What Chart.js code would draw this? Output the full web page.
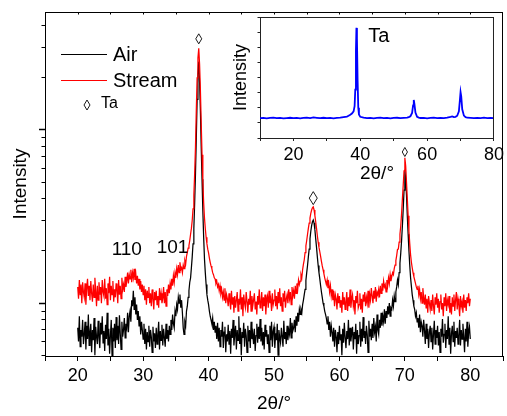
<!DOCTYPE html>
<html>
<head>
<meta charset="utf-8">
<script src="https://cdn.jsdelivr.net/npm/chart.js@4.4.1/dist/chart.umd.min.js"></script>
<style>
  html, body { margin: 0; padding: 0; background: #fff; }
  #wrap { position: relative; width: 507px; height: 416px; }
  #main { position: absolute; left: 0; top: 0; }
  #inset { position: absolute; left: 215px; top: 0; }
</style>
</head>
<body>
<div id="wrap">
  <canvas id="main" width="507" height="416"></canvas>
  <canvas id="inset" width="292" height="195"></canvas>
</div>
<script>
const ANGLE_START = 20, ANGLE_STEP = 0.125;

const airValues = [
  72, 60, 84, 56, 70, 64, 80, 58,         // 20
  66, 78, 54, 74, 62, 86, 57, 68,         // 21
  76, 52, 70, 61, 82, 50, 73, 64,         // 22
  58, 79, 63, 55, 77, 66, 84, 59,         // 23
  69, 53, 75, 62, 88, 57, 71, 51,         // 24
  65, 80, 49, 72, 60, 76, 55, 83,         // 25
  61, 74, 58, 85, 67, 54, 78, 64,         // 26
  70, 82, 63, 76, 72, 88, 68, 84,         // 27
  90, 78, 104, 96, 118, 92, 108, 86,      // 28
  98, 80, 90, 74, 84, 66, 78, 70,         // 29
  62, 76, 58, 71, 54, 68, 60, 74,         // 30
  56, 70, 64, 52, 73, 60, 67, 55,         // 31
  72, 58, 66, 78, 54, 69, 61, 75,         // 32
  57, 71, 63, 56, 76, 62, 70, 60,         // 33
  74, 66, 80, 70, 86, 76, 72, 90,         // 34
  84, 98, 92, 108, 100, 112, 94, 104,     // 35
  88, 72, 66, 78, 74, 90, 96, 108,        // 36
  118, 132, 140, 160, 185, 220, 270, 380, // 37
  560, 900, 1500, 2100, 2480, 1900, 1300, 800, // 38
  520, 340, 240, 180, 150, 128, 112, 104, // 39
  98, 90, 84, 80, 76, 82, 70, 78,         // 40
  68, 74, 62, 77, 60, 72, 56, 70,         // 41
  64, 78, 55, 68, 73, 52, 66, 60,         // 42
  75, 58, 69, 51, 71, 63, 80, 57,         // 43
  66, 74, 54, 70, 61, 84, 58, 72,         // 44
  50, 68, 63, 77, 56, 71, 65, 52,         // 45
  74, 60, 70, 55, 78, 62, 67, 58,         // 46
  71, 53, 65, 76, 59, 73, 62, 81,         // 47
  60, 72, 57, 68, 54, 75, 64, 70,         // 48
  58, 66, 52, 74, 61, 78, 56, 69,         // 49
  73, 55, 67, 61, 76, 50, 70, 63,         // 50
  59, 72, 64, 56, 79, 62, 68, 58,         // 51
  74, 61, 70, 66, 82, 63, 77, 69,         // 52
  72, 80, 68, 84, 74, 88, 78, 92,         // 53
  86, 92, 88, 98, 104, 112, 120, 135,     // 54
  150, 165, 185, 205, 235, 260, 280, 295, // 55
  302, 290, 265, 235, 210, 185, 165, 150, // 56
  138, 126, 116, 108, 100, 96, 90, 86,    // 57
  82, 76, 84, 70, 78, 64, 74, 68,         // 58
  60, 72, 56, 70, 64, 52, 68, 58,         // 59
  74, 61, 66, 50, 71, 59, 77, 63,         // 60
  55, 69, 62, 80, 57, 72, 60, 67,         // 61
  73, 54, 68, 62, 76, 51, 70, 58,         // 62
  65, 78, 56, 71, 60, 83, 63, 69,         // 63
  58, 74, 66, 52, 79, 64, 71, 61,         // 64
  76, 63, 82, 68, 73, 60, 86, 70,         // 65
  66, 80, 72, 88, 74, 84, 78, 92,         // 66
  76, 90, 82, 96, 86, 100, 84, 94,        // 67
  92, 104, 96, 110, 102, 116, 124, 136,   // 68
  128, 150, 170, 195, 230, 280, 350, 450, // 69
  590, 520, 420, 320, 250, 200, 165, 140, // 70
  125, 112, 104, 96, 92, 84, 88, 78,      // 71
  82, 72, 86, 68, 78, 74, 64, 80,         // 72
  70, 58, 76, 62, 71, 55, 68, 74,         // 73
  60, 72, 54, 66, 79, 58, 70, 63,         // 74
  74, 57, 68, 52, 71, 64, 81, 59,         // 75
  66, 76, 55, 70, 62, 84, 58, 72,         // 76
  51, 67, 74, 60, 78, 56, 69, 63,         // 77
  72, 58, 65, 80, 57, 70, 62, 76,         // 78
  64, 52, 71, 60, 78, 56, 68, 73,         // 79
  62                                      // 80
];

const streamValues = [
  124, 106, 136, 112, 128, 100, 132, 116, // 20
  108, 130, 98, 122, 138, 110, 126, 104,  // 21
  134, 114, 102, 128, 108, 140, 118, 96,  // 22
  126, 104, 132, 112, 124, 100, 136, 116, // 23
  110, 138, 106, 122, 98, 130, 114, 142,  // 24
  104, 126, 112, 134, 102, 120, 108, 130, // 25
  118, 100, 136, 112, 126, 106, 140, 120, // 26
  128, 116, 142, 124, 134, 150, 130, 146, // 27
  138, 156, 132, 150, 140, 158, 136, 148, // 28
  130, 144, 126, 138, 120, 134, 116, 128, // 29
  112, 126, 104, 120, 98, 118, 108, 124,  // 30
  100, 114, 96, 120, 106, 92, 116, 104,   // 31
  118, 98, 110, 94, 122, 104, 114, 100,   // 32
  106, 124, 100, 116, 96, 120, 110, 128,  // 33
  114, 130, 120, 138, 126, 144, 132, 150, // 34
  140, 158, 146, 166, 150, 172, 156, 160, // 35
  150, 166, 158, 176, 168, 186, 196, 208, // 36
  215, 230, 250, 270, 300, 350, 420, 560, // 37
  800, 1300, 2000, 2600, 2960, 2400, 1700, 1100, // 38
  720, 500, 380, 310, 270, 240, 220, 205, // 39
  195, 182, 172, 164, 158, 150, 146, 140, // 40
  138, 130, 134, 124, 128, 118, 126, 114, // 41
  120, 108, 116, 104, 122, 100, 112, 106, // 42
  96, 114, 102, 92, 118, 98, 108, 88,     // 43
  110, 94, 104, 116, 90, 106, 98, 120,    // 44
  92, 108, 84, 112, 100, 94, 116, 102,    // 45
  88, 106, 98, 118, 90, 110, 96, 104,     // 46
  114, 92, 102, 86, 110, 98, 120, 94,     // 47
  100, 116, 90, 108, 96, 112, 86, 104,    // 48
  110, 94, 118, 100, 106, 90, 114, 98,    // 49
  104, 120, 96, 110, 92, 116, 100, 122,   // 50
  96, 108, 90, 114, 102, 118, 94, 106,    // 51
  112, 100, 120, 106, 116, 98, 124, 110,  // 52
  118, 106, 126, 114, 130, 120, 136, 128, // 53
  134, 146, 140, 156, 168, 178, 196, 214, // 54
  230, 250, 270, 290, 310, 330, 345, 355, // 55
  360, 345, 320, 295, 270, 245, 225, 210, // 56
  198, 186, 174, 164, 156, 148, 140, 134, // 57
  128, 136, 122, 130, 116, 126, 110, 120, // 58
  104, 118, 96, 112, 106, 92, 114, 100,   // 59
  110, 94, 104, 88, 116, 98, 108, 92,     // 60
  102, 116, 90, 108, 96, 120, 94, 106,    // 61
  112, 96, 104, 86, 110, 100, 118, 94,    // 62
  98, 114, 92, 106, 88, 112, 102, 116,    // 63
  96, 108, 100, 118, 94, 112, 104, 122,   // 64
  110, 100, 118, 106, 124, 102, 116, 112, // 65
  120, 108, 126, 114, 130, 118, 134, 124, // 66
  128, 116, 136, 126, 140, 130, 146, 134, // 67
  142, 150, 146, 158, 166, 176, 188, 204, // 68
  205, 225, 250, 280, 330, 400, 480, 580, // 69
  690, 620, 500, 400, 320, 260, 220, 190, // 70
  172, 160, 150, 142, 136, 130, 124, 120, // 71
  126, 112, 120, 106, 116, 100, 122, 108, // 72
  98, 112, 94, 106, 88, 110, 100, 92,     // 73
  104, 90, 112, 96, 86, 108, 98, 114,     // 74
  94, 106, 88, 102, 112, 92, 100, 84,     // 75
  108, 96, 114, 90, 104, 98, 110, 88,     // 76
  100, 86, 108, 96, 112, 90, 104, 116,    // 77
  92, 106, 98, 84, 110, 96, 102, 88,      // 78
  112, 94, 104, 90, 108, 100, 114, 96,    // 79
  106                                     // 80
];

// inset: Ta reference pattern
const insetAngles = [
  10, 11, 12, 13, 14, 15, 16, 17, 18, 19, 20, 21, 22, 23, 24, 25, 26, 27, 28, 29,
  30, 31, 32, 33, 34, 35, 36, 36.5, 37, 37.5, 38, 38.3, 38.5, 38.7, 38.85, 39, 39.2, 39.4, 39.6,
  40, 41, 42, 43, 44, 45, 46, 47, 48, 49, 50, 51, 52, 53, 54, 54.5, 55, 55.5, 55.8,
  56, 56.2, 56.5, 57, 57.5, 58, 59, 60, 61, 62, 63, 64, 65, 66, 67, 67.5, 68, 68.5,
  69, 69.5, 69.8, 70, 70.2, 70.5, 71, 71.5, 72, 73, 74, 75, 76, 77, 78, 79, 80
];
const insetValues = [
  655, 668, 650, 662, 672, 655, 665, 648, 660, 670, 658, 666, 652, 664, 675, 660, 680, 668, 656, 670,
  658, 664, 650, 662, 672, 690, 710, 735, 770, 810, 880, 1050, 1600, 2900, 3640, 3300, 1900, 1000, 780,
  700, 672, 660, 668, 652, 664, 670, 655, 666, 650, 662, 670, 656, 668, 675, 690, 720, 830, 1080,
  1260, 1120, 840, 700, 672, 662, 668, 652, 664, 672, 658, 668, 660, 674, 700, 715, 690, 700,
  735, 880, 1250, 1520, 1380, 950, 740, 690, 670, 662, 655, 668, 660, 672, 656, 664, 660
];

// axis ranges and ticks
const X_MIN = 15, X_MAX = 85;
const Y_MIN = 49.5, Y_MAX = 4800;
const yMajorTicks = [100, 1000];
const yMinorTicks = [50, 60, 70, 80, 90, 200, 300, 400, 500, 600, 700, 800, 900, 2000, 3000, 4000];
const xTopTicks = [20, 25, 30, 35, 40, 45, 50, 55, 60, 65, 70, 75, 80];
const xTickLabels = [20, 30, 40, 50, 60, 70, 80];
const insetTickLabels = [20, 40, 60, 80];

// annotations
const legendNames = ['Air', 'Stream'];
const peakAngles = [38.5, 56, 70];
const peakLevels = [3360, 404, 746];
const hklLabels = ['110', '101'];
const hklAngles = [27.5, 34.5];
const hklLevels = [202, 209];

const FONT = "'Liberation Sans', Arial, sans-serif";
const COLORS = { air: '#000000', stream: '#ff0000', ta: '#0000ff', axis: '#000000' };
const PEAK_SIZES = [[3, 5], [4, 6.5], [2.6, 4.5]];

function toPoints(values) {
  return values.map((v, i) => ({ x: ANGLE_START + i * ANGLE_STEP, y: v }));
}

function diamond(ctx, x, y, w, h) {
  ctx.beginPath();
  ctx.moveTo(x, y - h); ctx.lineTo(x + w, y); ctx.lineTo(x, y + h); ctx.lineTo(x - w, y);
  ctx.closePath();
  ctx.stroke();
}

// top and right frame lines, small inward ticks on top
const framePlugin = {
  id: 'frame',
  afterDraw(chart, args, opts) {
    const { ctx, chartArea: a } = chart;
    const xs = chart.scales.x;
    ctx.save();
    ctx.strokeStyle = opts.color || '#000';
    ctx.lineWidth = 1;
    ctx.beginPath();
    ctx.moveTo(a.left, a.top + 0.5); ctx.lineTo(a.right, a.top + 0.5);
    ctx.moveTo(a.right - 0.5, a.top); ctx.lineTo(a.right - 0.5, a.bottom);
    (opts.topTicks || []).forEach(v => {
      const x = Math.round(xs.getPixelForValue(v)) + 0.5;
      ctx.moveTo(x, a.top); ctx.lineTo(x, a.top + 2.5);
    });
    ctx.stroke();
    ctx.restore();
  }
};

const marksPlugin = {
  id: 'marks',
  afterDatasetsDraw(chart) {
    const { ctx } = chart;
    const xs = chart.scales.x, ys = chart.scales.y;
    ctx.save();
    ctx.strokeStyle = '#000';
    ctx.fillStyle = '#000';
    ctx.lineWidth = 0.9;
    peakAngles.forEach((a, i) => {
      diamond(ctx, xs.getPixelForValue(a), ys.getPixelForValue(peakLevels[i]), PEAK_SIZES[i][0], PEAK_SIZES[i][1]);
    });
    ctx.font = '19px ' + FONT;
    ctx.textAlign = 'center';
    ctx.textBaseline = 'middle';
    hklLabels.forEach((t, i) => {
      ctx.fillText(t, xs.getPixelForValue(hklAngles[i]), ys.getPixelForValue(hklLevels[i]));
    });

    // legend
    const colors = [COLORS.air, COLORS.stream];
    ctx.textAlign = 'left';
    ctx.font = '20px ' + FONT;
    legendNames.forEach((name, i) => {
      const y = 54.5 + i * 26;
      ctx.strokeStyle = colors[i];
      ctx.lineWidth = 1;
      ctx.beginPath(); ctx.moveTo(61, y); ctx.lineTo(107, y); ctx.stroke();
      ctx.fillText(name, 113, y + 1);
    });
    ctx.strokeStyle = '#000';
    ctx.lineWidth = 0.9;
    diamond(ctx, 87, 105, 3, 5);
    ctx.font = '16px ' + FONT;
    ctx.fillText('Ta', 101, 104);
    ctx.restore();
  }
};

new Chart(document.getElementById('main'), {
  type: 'line',
  data: {
    datasets: [
      { label: 'Stream', data: toPoints(streamValues), borderColor: COLORS.stream, borderWidth: 1.25, pointRadius: 0, tension: 0 },
      { label: 'Air', data: toPoints(airValues), borderColor: COLORS.air, borderWidth: 1.25, pointRadius: 0, tension: 0 },
    ],
  },
  options: {
    responsive: false,
    animation: false,
    events: [],
    layout: { padding: { top: 12, right: 0.5, left: 0, bottom: 0 } },
    plugins: { legend: { display: false }, tooltip: { enabled: false }, frame: { topTicks: xTopTicks } },
    scales: {
      x: {
        type: 'linear', min: X_MIN, max: X_MAX,
        ticks: {
          stepSize: 5, autoSkip: false, maxRotation: 0, color: '#000', padding: 4,
          font: { family: FONT, size: 18 },
          callback: v => xTickLabels.includes(v) ? String(v) : '',
        },
        grid: { drawOnChartArea: false, tickLength: 5, color: COLORS.axis },
        border: { color: COLORS.axis, width: 1 },
        title: { display: true, text: '2θ/°', color: '#000', font: { family: FONT, size: 19 }, padding: { top: 0, bottom: 1 } },
        afterFit: s => { s.height = 60; },
      },
      y: {
        type: 'logarithmic', position: 'left', weight: 1, min: Y_MIN, max: Y_MAX,
        afterBuildTicks: s => { s.ticks = yMajorTicks.map(v => ({ value: v })); },
        ticks: { display: false },
        grid: { drawOnChartArea: false, tickLength: 6, color: COLORS.axis, tickWidth: 1.5 },
        border: { color: COLORS.axis, width: 1 },
        title: { display: true, text: 'Intensity', color: '#000', font: { family: FONT, size: 19 }, padding: { top: 9, bottom: 0 } },
        afterFit: s => { s.width = 45; },
      },
      y2: {
        type: 'logarithmic', position: 'left', weight: 0, min: Y_MIN, max: Y_MAX,
        afterBuildTicks: s => { s.ticks = yMinorTicks.map(v => ({ value: v })); },
        ticks: { display: false },
        grid: { drawOnChartArea: false, tickLength: 3.5, color: COLORS.axis },
        border: { display: false },
        afterFit: s => { s.width = 0; },
      },
    },
  },
  plugins: [framePlugin, marksPlugin],
});

const insetLabelPlugin = {
  id: 'insetLabel',
  afterDatasetsDraw(chart) {
    const { ctx } = chart;
    ctx.save();
    ctx.fillStyle = '#000';
    ctx.font = '20px ' + FONT;
    ctx.textAlign = 'left';
    ctx.textBaseline = 'middle';
    ctx.fillText('Ta', chart.scales.x.getPixelForValue(42.4), chart.scales.y.getPixelForValue(3340));
    ctx.restore();
  }
};

new Chart(document.getElementById('inset'), {
  type: 'line',
  data: {
    datasets: [{
      label: 'Ta', data: insetAngles.map((a, i) => ({ x: a, y: insetValues[i] })),
      borderColor: COLORS.ta, borderWidth: 1.8, pointRadius: 0, tension: 0,
    }],
  },
  options: {
    responsive: false,
    animation: false,
    events: [],
    layout: { padding: { top: 17, right: 10, left: 0, bottom: 0 } },
    plugins: { legend: { display: false }, tooltip: { enabled: false }, frame: { color: '#222', topTicks: [] } },
    scales: {
      x: {
        type: 'linear', min: 10, max: 80,
        ticks: {
          stepSize: 10, autoSkip: false, maxRotation: 0, color: '#000', padding: 3,
          font: { family: FONT, size: 18 },
          callback: v => insetTickLabels.includes(v) ? String(v) : '',
        },
        grid: { drawOnChartArea: false, tickLength: 3, color: '#222' },
        border: { color: '#222', width: 1 },
        title: { display: true, text: '2θ/°', color: '#000', font: { family: FONT, size: 19 }, padding: { top: 0, bottom: 10 } },
        afterFit: s => { s.height = 57; },
      },
      y: {
        type: 'linear', min: 0, max: 4000,
        ticks: { display: false, stepSize: 500 },
        grid: { drawOnChartArea: false, tickLength: 2.5, color: '#222' },
        border: { color: '#222', width: 1 },
        title: { display: true, text: 'Intensity', color: '#000', font: { family: FONT, size: 18 }, padding: { top: 15, bottom: 0 } },
        afterFit: s => { s.width = 45; },
      },
    },
  },
  plugins: [framePlugin, insetLabelPlugin],
});
</script>
</body>
</html>
